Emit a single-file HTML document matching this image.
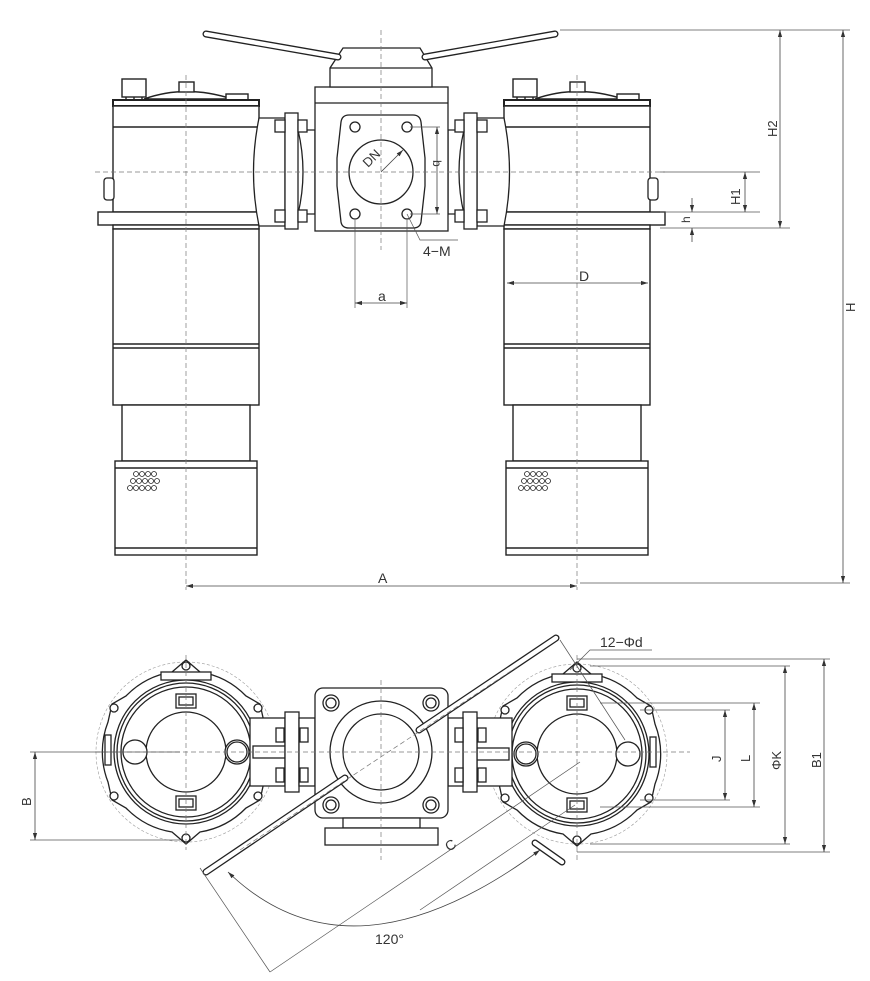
<!DOCTYPE html>
<html><head><meta charset="utf-8"><style>
html,body{margin:0;padding:0;background:#fff;}
svg{display:block;}
text{font-family:"Liberation Sans",sans-serif;fill:#333;}
</style></head><body>
<svg width="870" height="981" viewBox="0 0 870 981" xmlns="http://www.w3.org/2000/svg">
<defs>
<marker id="ar" viewBox="0 0 10 10" refX="10" refY="5" markerWidth="7" markerHeight="7" orient="auto-start-reverse" markerUnits="userSpaceOnUse">
<path d="M0,2 L10,5 L0,8 Z" fill="#333"/>
</marker>
<g id="filt" fill="#fff" stroke="#222" stroke-width="1.4">
 <path d="M-42,99 Q0,84 46,99 Z"/>
 <rect x="-7" y="82" width="15" height="10"/>
 <rect x="-64" y="79" width="24" height="18"/>
 <line x1="-60" y1="97" x2="-60" y2="100"/><line x1="-52" y1="97" x2="-52" y2="100"/><line x1="-44" y1="97" x2="-44" y2="100"/>
 <rect x="40" y="94" width="22" height="6"/>
 <rect x="-73" y="100" width="146" height="6" stroke-width="2"/>
 <rect x="-73" y="106" width="146" height="106"/>
 <line x1="-73" y1="127" x2="73" y2="127"/>
 <rect x="-88" y="212" width="176" height="13"/>
 <rect x="-73" y="225" width="146" height="4"/>
 <rect x="-73" y="229" width="146" height="176"/>
 <line x1="-73" y1="344" x2="73" y2="344"/>
 <line x1="-73" y1="348" x2="73" y2="348"/>
 <rect x="-64" y="405" width="128" height="56"/>
 <rect x="-71" y="461" width="142" height="94"/>
 <line x1="-71" y1="468" x2="71" y2="468"/>
 <line x1="-71" y1="548" x2="71" y2="548"/>
 <g stroke-width="0.8">
 <circle cx="-50" cy="474" r="2.5"/><circle cx="-44" cy="474" r="2.5"/><circle cx="-38" cy="474" r="2.5"/><circle cx="-32" cy="474" r="2.5"/>
 <circle cx="-53" cy="481" r="2.5"/><circle cx="-47" cy="481" r="2.5"/><circle cx="-41" cy="481" r="2.5"/><circle cx="-35" cy="481" r="2.5"/><circle cx="-29" cy="481" r="2.5"/>
 <circle cx="-56" cy="488" r="2.5"/><circle cx="-50" cy="488" r="2.5"/><circle cx="-44" cy="488" r="2.5"/><circle cx="-38" cy="488" r="2.5"/><circle cx="-32" cy="488" r="2.5"/>
 </g>
</g>
<g id="pv" fill="#fff" stroke="#222" stroke-width="1.3">
 <circle r="90" fill="none" stroke="#999" stroke-width="0.6" stroke-dasharray="3 2"/>
 <path d="M-14,-80 L0,-92 L14,-80 A82,82 0 0 1 60,-56 L74,-48 L78,-30 A82,82 0 0 1 78,30 L74,48 L60,56 A82,82 0 0 1 14,80 L0,92 L-14,80 A82,82 0 0 1 -60,56 L-74,48 L-78,30 A82,82 0 0 1 -78,-30 L-74,-48 L-60,-56 A82,82 0 0 1 -14,-80 Z"/>
 <circle cx="0" cy="-86" r="4"/><circle cx="0" cy="86" r="4"/>
 <circle cx="-72" cy="-44" r="4"/><circle cx="72" cy="-44" r="4"/>
 <circle cx="-72" cy="44" r="4"/><circle cx="72" cy="44" r="4"/>
 <rect x="-25" y="-80" width="50" height="8"/>
 <circle r="72"/><circle r="69"/><circle r="65"/>
 <circle r="40"/>
 <rect x="-10" y="-58" width="20" height="14"/><rect x="-7" y="-55" width="14" height="8"/>
 <rect x="-10" y="44" width="20" height="14"/><rect x="-7" y="47" width="14" height="8"/>
</g>
</defs>

<use href="#filt" x="186"/>
<use href="#filt" x="577"/>
<g fill="#fff" stroke="#222" stroke-width="1.3">
<rect x="104" y="178" width="10" height="22" rx="3"/>
<rect x="648" y="178" width="10" height="22" rx="3"/>
<path d="M259,118 L285,118 L285,226 L259,226 Q248,172 259,118Z"/>
<path d="M298,130 L315,130 L315,214 L298,214 Q308,172 298,130Z"/>
<rect x="285" y="113" width="13" height="116"/>
<rect x="275" y="120" width="10" height="12"/><rect x="298" y="120" width="9" height="12"/>
<rect x="275" y="210" width="10" height="12"/><rect x="298" y="210" width="9" height="12"/>
<path d="M504,118 L477,118 L477,226 L504,226 Q515,172 504,118Z"/>
<path d="M464,130 L448,130 L448,214 L464,214 Q454,172 464,130Z"/>
<rect x="464" y="113" width="13" height="116"/>
<rect x="477" y="120" width="10" height="12"/><rect x="455" y="120" width="9" height="12"/>
<rect x="477" y="210" width="10" height="12"/><rect x="455" y="210" width="9" height="12"/>
<rect x="315" y="87" width="133" height="144"/>
<line x1="315" y1="103" x2="448" y2="103"/>
<path d="M330,87 L330,68 L343,48 L420,48 L432,68 L432,87Z"/>
<line x1="330" y1="68" x2="432" y2="68"/>
<path d="M349,115 L413,115 Q420,115 421,122 L425,158 L425,186 L421,222 Q420,228 413,228 L349,228 Q342,228 341,222 L337,186 L337,158 L341,122 Q342,115 349,115Z"/>
<circle cx="381" cy="172" r="32"/>
<circle cx="355" cy="127" r="5"/><circle cx="407" cy="127" r="5"/>
<circle cx="355" cy="214" r="5"/><circle cx="407" cy="214" r="5"/>
</g>
<g stroke-linecap="round">
<line x1="206" y1="34" x2="338" y2="57" stroke="#222" stroke-width="7"/>
<line x1="206" y1="34" x2="338" y2="57" stroke="#fff" stroke-width="4.4"/>
<line x1="425" y1="57" x2="555" y2="34" stroke="#222" stroke-width="7"/>
<line x1="425" y1="57" x2="555" y2="34" stroke="#fff" stroke-width="4.4"/>
</g>
<g stroke="#777" stroke-width="0.7" stroke-dasharray="5 3" fill="none">
<line x1="186" y1="75" x2="186" y2="590"/>
<line x1="577" y1="75" x2="577" y2="590"/>
<line x1="381" y1="30" x2="381" y2="250"/>
<line x1="95" y1="172" x2="665" y2="172"/>
</g>
<g stroke="#555" stroke-width="0.7" fill="none">
<line x1="560" y1="30" x2="850" y2="30"/>
<line x1="660" y1="172" x2="760" y2="172"/>
<line x1="660" y1="212" x2="760" y2="212"/>
<line x1="660" y1="228" x2="790" y2="228"/>
<line x1="580" y1="583" x2="850" y2="583"/>
<line x1="355" y1="220" x2="355" y2="308"/>
<line x1="407" y1="220" x2="407" y2="308"/>
<line x1="410" y1="127" x2="440" y2="127"/>
<line x1="410" y1="214" x2="440" y2="214"/>
<path d="M407,214 L420,240 L458,240"/>
</g>
<g stroke="#444" stroke-width="0.8" fill="none" marker-start="url(#ar)" marker-end="url(#ar)">
<line x1="843" y1="30" x2="843" y2="583"/>
<line x1="780" y1="30" x2="780" y2="228"/>
<line x1="745" y1="172" x2="745" y2="212"/>
<line x1="507" y1="283" x2="648" y2="283"/>
<line x1="355" y1="303" x2="407" y2="303"/>
<line x1="437" y1="127" x2="437" y2="214"/>
<line x1="186" y1="586" x2="577" y2="586"/>
</g>
<g stroke="#444" stroke-width="0.8" fill="none">
<line x1="692" y1="198" x2="692" y2="212" marker-end="url(#ar)"/>
<line x1="692" y1="242" x2="692" y2="228" marker-end="url(#ar)"/>
<line x1="381" y1="172" x2="403" y2="150" marker-end="url(#ar)"/>
</g>
<g font-size="13">
<text x="378" y="301" font-size="14">a</text>
<text x="423" y="256" font-size="14">4−M</text>
<text x="579" y="281" font-size="14">D</text>
<text x="378" y="583" font-size="14">A</text>
<text transform="translate(433,160) rotate(90)" font-size="12">b</text>
<text transform="translate(368,168) rotate(-45)" font-size="13">DN</text>
<text transform="translate(777,137) rotate(-90)">H2</text>
<text transform="translate(740,205) rotate(-90)">H1</text>
<text transform="translate(690,223) rotate(-90)" font-size="12">h</text>
<text transform="translate(855,312) rotate(-90)">H</text>
</g>

<use href="#pv" x="186" y="752"/>
<use href="#pv" x="577" y="754"/>
<g fill="#fff" stroke="#222" stroke-width="1.3">
<rect x="105" y="735" width="6" height="30"/>
<rect x="650" y="737" width="6" height="30"/>
<circle cx="237" cy="752" r="12"/><circle cx="237" cy="752" r="10"/>
<circle cx="135" cy="752" r="12"/>
<circle cx="628" cy="754" r="12"/>
<circle cx="526" cy="754" r="12"/><circle cx="526" cy="754" r="10"/>
<rect x="250" y="718" width="35" height="68"/>
<rect x="253" y="746" width="32" height="12"/>
<rect x="285" y="712" width="14" height="80"/>
<rect x="299" y="718" width="16" height="68"/>
<rect x="276" y="728" width="8" height="14"/><rect x="276" y="768" width="8" height="14"/>
<rect x="300" y="728" width="8" height="14"/><rect x="300" y="768" width="8" height="14"/>
<rect x="477" y="718" width="35" height="68"/>
<rect x="477" y="748" width="32" height="12"/>
<rect x="463" y="712" width="14" height="80"/>
<rect x="448" y="718" width="15" height="68"/>
<rect x="455" y="728" width="8" height="14"/><rect x="455" y="768" width="8" height="14"/>
<rect x="478" y="728" width="8" height="14"/><rect x="478" y="768" width="8" height="14"/>
<rect x="315" y="688" width="133" height="130" rx="8"/>
<rect x="343" y="818" width="77" height="10"/>
<rect x="325" y="828" width="113" height="17"/>
<circle cx="381" cy="752" r="51"/><circle cx="381" cy="752" r="38"/>
<circle cx="331" cy="703" r="8"/><circle cx="331" cy="703" r="5"/>
<circle cx="431" cy="703" r="8"/><circle cx="431" cy="703" r="5"/>
<circle cx="331" cy="805" r="8"/><circle cx="331" cy="805" r="5"/>
<circle cx="431" cy="805" r="8"/><circle cx="431" cy="805" r="5"/>
</g>
<g stroke-linecap="round">
<line x1="206" y1="872" x2="345" y2="778" stroke="#222" stroke-width="7"/>
<line x1="206" y1="872" x2="345" y2="778" stroke="#fff" stroke-width="4.4"/>
<line x1="419" y1="730" x2="556" y2="638" stroke="#222" stroke-width="7"/>
<line x1="419" y1="730" x2="556" y2="638" stroke="#fff" stroke-width="4.4"/>
<line x1="535" y1="843" x2="562" y2="862" stroke="#222" stroke-width="7"/>
<line x1="535" y1="843" x2="562" y2="862" stroke="#fff" stroke-width="4.4"/>
</g>
<g stroke="#777" stroke-width="0.7" stroke-dasharray="5 3" fill="none">
<line x1="95" y1="752" x2="690" y2="752"/>
<line x1="186" y1="655" x2="186" y2="850"/>
<line x1="577" y1="655" x2="577" y2="860"/>
<line x1="381" y1="680" x2="381" y2="860"/>
<line x1="240" y1="850" x2="520" y2="665"/>
</g>
<g stroke="#555" stroke-width="0.7" fill="none">
<line x1="30" y1="752" x2="180" y2="752"/>
<line x1="30" y1="840" x2="180" y2="840"/>
<line x1="577" y1="659" x2="830" y2="659"/>
<line x1="577" y1="852" x2="830" y2="852"/>
<line x1="590" y1="666" x2="790" y2="666"/>
<line x1="590" y1="844" x2="790" y2="844"/>
<line x1="600" y1="703" x2="760" y2="703"/>
<line x1="600" y1="807" x2="760" y2="807"/>
<line x1="640" y1="710" x2="730" y2="710"/>
<line x1="640" y1="800" x2="730" y2="800"/>
<path d="M570,670 L590,650 L652,650"/>
<line x1="560" y1="640" x2="625" y2="740"/>
<line x1="270" y1="972" x2="200" y2="868"/>
<line x1="270" y1="972" x2="580" y2="762"/>
<line x1="420" y1="910" x2="575" y2="805"/>
</g>
<g stroke="#444" stroke-width="0.8" fill="none" marker-start="url(#ar)" marker-end="url(#ar)">
<line x1="35" y1="752" x2="35" y2="840"/>
<line x1="824" y1="659" x2="824" y2="852"/>
<line x1="785" y1="666" x2="785" y2="844"/>
<line x1="754" y1="703" x2="754" y2="807"/>
<line x1="725" y1="710" x2="725" y2="800"/>
<path d="M228,872 Q350,990 540,850"/>
</g>
<g font-size="13">
<text x="600" y="647" font-size="14">12−Φd</text>
<text x="375" y="944" font-size="14">120°</text>
<text transform="translate(449,852) rotate(-34)" font-size="14">C</text>
<text transform="translate(31,806) rotate(-90)">B</text>
<text transform="translate(721,762) rotate(-90)">J</text>
<text transform="translate(750,762) rotate(-90)">L</text>
<text transform="translate(781,770) rotate(-90)">ΦK</text>
<text transform="translate(821,768) rotate(-90)">B1</text>
</g>
</svg>
</body></html>
